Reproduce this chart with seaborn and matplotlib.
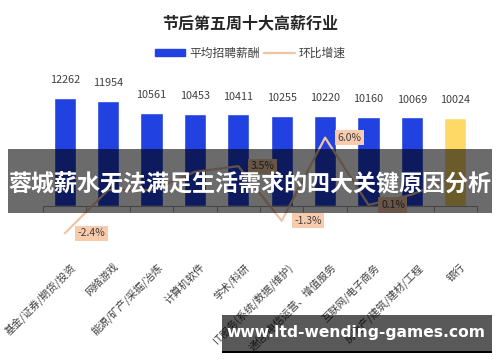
import matplotlib
matplotlib.use("Agg")
import matplotlib.pyplot as plt
import matplotlib.transforms as mtransforms
import seaborn as sns
import pandas as pd
from matplotlib.patches import Patch, Rectangle
from matplotlib.lines import Line2D
from matplotlib.ticker import FixedLocator

# data
industries = ["基金/证券/期货/投资", "网络游戏", "能源/矿产/采掘/冶炼", "计算机软件", "学术/科研",
              "IT服务(系统/数据/维护)", "通信/电信运营、增值服务", "互联网/电子商务",
              "房地产/建筑/建材/工程", "银行"]
salary = [12262, 11954, 10561, 10453, 10411, 10255, 10220, 10160, 10069, 10024]
growth = [-2.4, 1.4, 1.4, 3.0, 3.5, -1.3, 6.0, 0.1, 1.0, 2.6]
shown_growth = [0, 4, 5, 6, 7]  # labels readable in the picture (others hidden by banner)

blue = "#2142E0"
yellow = "#FFD966"
peach = "#EFC5A8"
bar_colors = [blue] * 9 + [yellow]

sns.set_style("white")
plt.rcParams["font.family"] = ["Noto Sans CJK SC", "DejaVu Sans"]

df = pd.DataFrame({"industry": industries, "salary": salary, "growth": growth})

fig = plt.figure(figsize=(5, 3.62), dpi=100)
ax = fig.add_axes([0.086, 0.337, 0.868, 0.4144])

sns.barplot(data=df, x="industry", y="salary", hue="industry", palette=bar_colors,
            legend=False, width=0.51, ax=ax, saturation=1)
ax.set_xlim(-0.5, 9.5)
ax.set_ylim(-3860, 13170)
for i, v in enumerate(salary):
    ax.annotate(str(v), (i, v), xytext=(0, 9), textcoords="offset points",
                ha="center", va="bottom", fontsize=7.8, color="#404040")

for s in ["top", "right", "left"]:
    ax.spines[s].set_visible(False)
ax.spines["bottom"].set_position(("data", 0))
ax.spines["bottom"].set_color("#A6A6A6")
ax.spines["bottom"].set_linewidth(0.8)
ax.set_yticks([])
ax.set_xlabel("")
ax.set_ylabel("")
ax.xaxis.set_minor_locator(FixedLocator([i - 0.5 for i in range(11)]))
ax.tick_params(axis="x", which="minor", length=4, color="#A6A6A6", width=0.8, bottom=True)
ax.tick_params(axis="x", which="major", length=0, pad=40, labelsize=7.5, labelcolor="#404040")
shift = mtransforms.ScaledTranslation(5 / 100, 0, fig.dpi_scale_trans)
for lbl in ax.get_xticklabels():
    lbl.set_rotation(45)
    lbl.set_ha("right")
    lbl.set_va("top")
    lbl.set_rotation_mode("anchor")
    lbl.set_transform(lbl.get_transform() + shift)

ax2 = ax.twinx()
sns.lineplot(x=list(range(10)), y=growth, ax=ax2, color=peach, linewidth=1.6)
ax2.set_ylim(-2.98, 10.18)
ax2.set_yticks([])
for s in ax2.spines.values():
    s.set_visible(False)
for i in shown_growth:
    ax2.annotate(f"{growth[i]:.1f}%", (i, growth[i]), xytext=(9, 0), textcoords="offset points",
                 ha="left", va="center", fontsize=7.5, color="#404040",
                 bbox=dict(boxstyle="square,pad=0.25", fc="#F8CBAD", ec="none"))

fig.text(0.5, 1 - 23 / 362, "节后第五周十大高薪行业", ha="center", va="center",
         fontsize=11.5, fontweight="bold", color="#262626")

handles = [Patch(color=blue), Line2D([0], [0], color=peach, linewidth=1.6)]
fig.legend(handles, ["平均招聘薪酬", "环比增速"], loc="center", bbox_to_anchor=(0.5, 1 - 53 / 362),
           ncol=2, frameon=False, fontsize=8.5, handlelength=2.6, handleheight=0.6,
           columnspacing=0.4, handletextpad=0.3, labelcolor="#404040")

# overlay banner and watermark
fig.add_artist(Rectangle((8 / 500, 1 - 213 / 362), 484 / 500, 64 / 362, transform=fig.transFigure,
                         facecolor="black", alpha=0.58, edgecolor="none", zorder=10))
fig.text(0.5, 1 - 184 / 362, "蓉城薪水无法满足生活需求的四大关键原因分析", ha="center", va="center",
         fontsize=16.6, fontweight="bold", color="white", zorder=11)

fig.add_artist(Rectangle((222 / 500, 1 - 351 / 362), 270 / 500, 36 / 362, transform=fig.transFigure,
                         facecolor="black", alpha=0.65, edgecolor="none", zorder=10))
fig.add_artist(Rectangle((222 / 500, 1 - 353 / 362), 270 / 500, 2 / 362, transform=fig.transFigure,
                         facecolor="black", edgecolor="none", zorder=10))
fig.text(356 / 500, 1 - 333 / 362, "www.ltd-wending-games.com", ha="center", va="center",
         fontsize=11.2, fontweight="bold", color="white", family="DejaVu Sans", zorder=11)

fig.savefig("out.png", dpi=100)
